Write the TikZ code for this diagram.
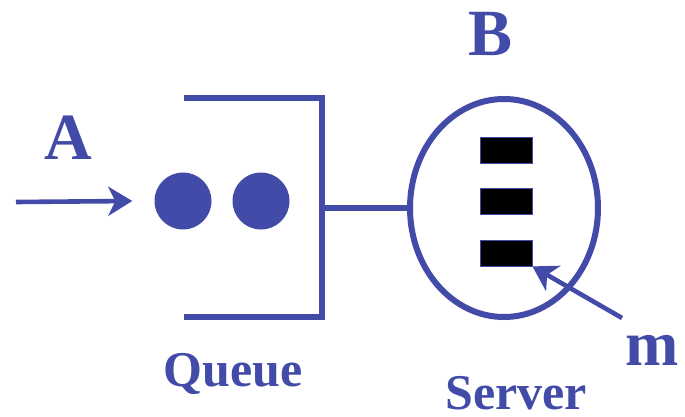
\documentclass[tikz,border=0pt]{standalone}
\usepackage{fontspec}
\setmainfont{Liberation Serif}
\usetikzlibrary{arrows.meta,shapes.geometric}
\definecolor{qblue}{RGB}{67,75,168}
\begin{document}
\begin{tikzpicture}[x=1pt,y=-1pt,
  line/.style={draw=qblue,line width=6pt},
  arr/.style={draw=qblue,line width=4.6pt,-{Stealth[length=24pt,width=29pt,inset=7pt]}},
  lbl/.style={text=qblue,font=\bfseries,anchor=base,inner sep=0pt},
  dot/.style={circle,fill=qblue,minimum size=57pt,inner sep=0pt},
  slot/.style={rectangle,fill=black,draw=qblue,line width=0.8pt,minimum width=52pt,minimum height=26pt,inner sep=0pt}]
\useasboundingbox (0,0) rectangle (685,417);
% labels
\node[lbl,font=\bfseries\fontsize{66}{66}\selectfont] (A) at (68,160) {A};
\node[lbl,font=\bfseries\fontsize{66}{66}\selectfont] (B) at (491,56) {B};
\node[lbl,font=\bfseries\fontsize{64}{64}\selectfont] (m) at (652,365) {m};
\node[lbl,font=\bfseries\fontsize{50}{50}\selectfont] (Q) at (233,386) {Queue};
\node[lbl,font=\bfseries\fontsize{50}{50}\selectfont] (S) at (516,409) {Server};
% queue
\node[dot] (c1) at (183,201) {};
\node[dot] (c2) at (261,201) {};
\coordinate (in) at (16,202);
\coordinate (qtl) at (184,98);
\coordinate (qtr) at (322,98);
\coordinate (qbr) at (322,317);
\coordinate (qbl) at (184,317);
\coordinate (qout) at (322,208);
\draw[arr] (in) -- ([xshift=-22pt]c1.west);
\draw[line] (qtl) -- (qtr) -- (qbr) -- (qbl);
% server
\node[ellipse,draw=qblue,line width=6pt,minimum width=188pt,minimum height=218pt,inner sep=0pt] (srv) at (504,208) {};
\node[slot] (s1) at (506,150) {};
\node[slot] (s2) at (506,201) {};
\node[slot] (s3) at (506,253) {};
\draw[line] (qout) -- (srv.west);
\coordinate (mt) at (622,318);
\draw[arr] (mt) -- (s3.south east);
\end{tikzpicture}
\end{document}
